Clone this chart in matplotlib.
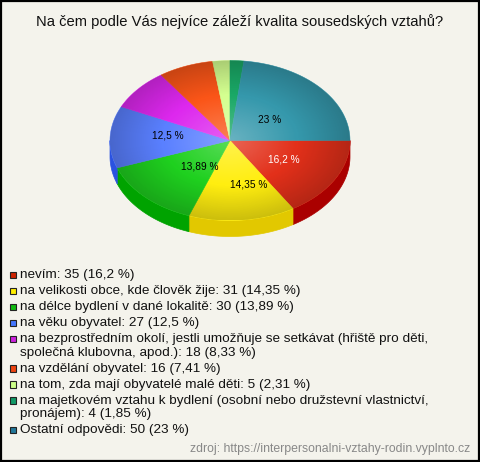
import numpy as np
import matplotlib
matplotlib.use("Agg")
import matplotlib.pyplot as plt
from matplotlib.patches import Polygon, Rectangle, Ellipse

plt.rcParams['font.family'] = ['Liberation Sans', 'DejaVu Sans']

title = "Na čem podle Vás nejvíce záleží kvalita sousedských vztahů?"
source = "zdroj: https://interpersonalni-vztahy-rodin.vyplnto.cz"

# answers in legend order
labels = [
    "nevím",
    "na velikosti obce, kde člověk žije",
    "na délce bydlení v dané lokalitě",
    "na věku obyvatel",
    "na bezprostředním okolí, jestli umožňuje se setkávat (hřiště pro děti,\nspolečná klubovna, apod.)",
    "na vzdělání obyvatel",
    "na tom, zda mají obyvatelé malé děti",
    "na majetkovém vztahu k bydlení (osobní nebo družstevní vlastnictví,\npronájem)",
    "Ostatní odpovědi",
]
counts = [35, 31, 30, 27, 18, 16, 5, 4, 50]
pct_text = ["16,2", "14,35", "13,89", "12,5", "8,33", "7,41", "2,31", "1,85", "23"]

top_colors = ["#e2301a", "#ffee10", "#1fd01f", "#5a80ff", "#dd28ee",
              "#fa5518", "#d4ff90", "#1aa866", "#3598ac"]
side_colors = ["#aa0000", "#e2c800", "#00a300", "#2a52e0", "#a010b0",
               "#c03000", "#a0d060", "#108040", "#1a6a7a"]
legend_colors = ["#cc2200", "#ffee00", "#11bb11", "#4477ff", "#cc22dd",
                 "#ee4411", "#ccff88", "#119966", "#227799"]
# small pixel nudges for the in-slice labels
label_nudge = [(1, 0), (13, 4), (12, -2), (-2, -3), (0, 0),
               (0, 0), (0, 0), (0, 0), (-5, 6)]

W, H = 480, 462
fig = plt.figure(figsize=(W / 100, H / 100), dpi=100)
fig.patch.set_facecolor("#f4f3ec")
ax = fig.add_axes([0, 0, 1, 1])
ax.set_xlim(0, W)
ax.set_ylim(H, 0)
ax.axis("off")

# pie geometry (pixels)
cx, cy, rx, ry, depth = 230, 140.5, 120, 80, 16


def edge(a0, a1, dy=0.0):
    t = np.radians(np.linspace(a0, a1, 80))
    return np.column_stack([cx + rx * np.cos(t), cy - ry * np.sin(t) + dy])


fracs = np.array(counts) / sum(counts)
starts, ends = [], []
a = 0.0
for f in fracs:
    ends.append(a)
    a -= f * 360
    starts.append(a)

# side walls (front half only: angles between -180 and 0)
for s, e, col in zip(starts, ends, side_colors):
    lo, hi = max(s, -180), min(e, 0)
    if hi <= lo:
        continue
    top = edge(lo, hi)
    bot = edge(hi, lo, depth)
    ax.add_patch(Polygon(np.vstack([top, bot]), closed=True, fc=col, ec=col, lw=0.5))

# top faces
for s, e, col in zip(starts, ends, top_colors):
    pts = np.vstack([[cx, cy], edge(s, e)])
    ax.add_patch(Polygon(pts, closed=True, fc=col, ec=col, lw=0.4))

# radial shading on top face
yy, xx = np.mgrid[cy - ry:cy + ry:200j, cx - rx:cx + rx:300j]
r = np.sqrt(((xx - cx) / rx) ** 2 + ((yy - cy) / ry) ** 2)
v = 0.26 - 0.46 * np.clip(r, 0, 1)
img = np.zeros(r.shape + (4,))
img[..., :3] = np.where(v[..., None] > 0, 1.0, 0.0)
img[..., 3] = np.abs(v)
clip = Ellipse((cx, cy), 2 * rx, 2 * ry, transform=ax.transData, fc="none", ec="none")
ax.add_patch(clip)
im = ax.imshow(img, extent=(cx - rx, cx + rx, cy + ry, cy - ry), interpolation="bilinear", zorder=2)
im.set_clip_path(clip)

# slice labels
for s, e, p, f, nd in zip(starts, ends, pct_text, fracs, label_nudge):
    if f < 0.1:
        continue
    m = np.radians((s + e) / 2)
    tx = cx + 0.5 * rx * np.cos(m) + nd[0]
    ty = cy - 0.5 * ry * np.sin(m) + nd[1]
    col = "white" if p == "16,2" else "black"
    ax.text(tx, ty, p + " %", ha="center", va="center", fontsize=7.3, color=col, zorder=3)

# title
ax.text(W / 2, 26, title, ha="center", va="baseline", fontsize=10.6, color="#111111")

# legend
y = 275
for lab, n, p, col in zip(labels, counts, pct_text, legend_colors):
    lines = (lab + ": %d (%s %%)" % (n, p)).split("\n")
    ax.add_patch(Rectangle((9.5, y - 3.3), 6.7, 6.6, fc=col, ec="#222222", lw=0.8))
    for k, ln in enumerate(lines):
        ax.text(19.5, y + 3.4 + k * 13.5, ln, ha="left", va="baseline", fontsize=9.7, color="#111111")
    y += 16 + 13.5 * (len(lines) - 1)

ax.text(470, 452, source, ha="right", va="baseline", fontsize=8.8, color="#888888")

# outer frame
ax.add_patch(Rectangle((0.75, 0.75), W - 1.5, H - 1.5, fc="none", ec="black", lw=1.6, zorder=5))

fig.savefig("out.png", dpi=100, facecolor=fig.get_facecolor())
